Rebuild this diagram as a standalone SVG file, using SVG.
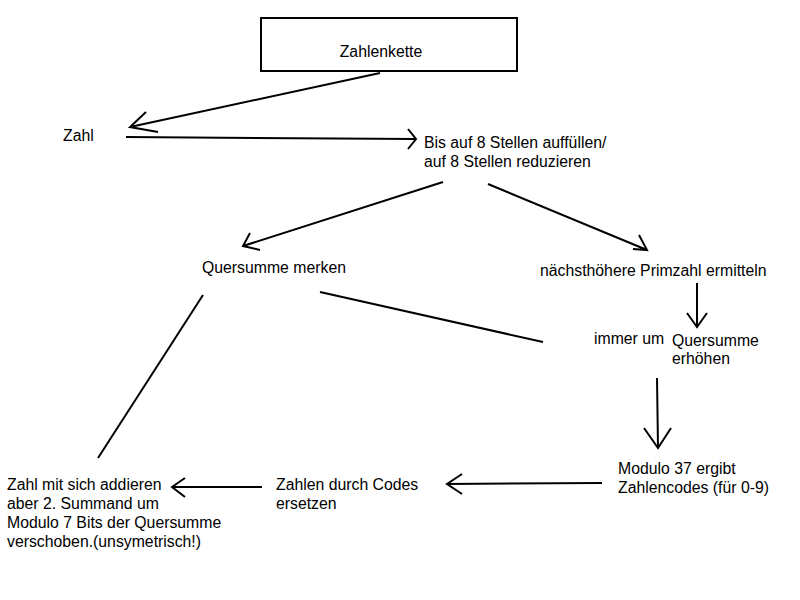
<svg xmlns="http://www.w3.org/2000/svg" width="800" height="600" viewBox="0 0 800 600">
<style>
text{font-family:"Liberation Sans",Arial,sans-serif;font-size:15.8px;fill:#000}
.ln{stroke:#000;stroke-width:2;fill:none}
</style>
<rect width="800" height="600" fill="#fff"/>
<g id="connectors">
<path class="ln" d="M380,73 L130,127 M146,112 L130,127 L158,132"/>
<path class="ln" d="M126,137 L416,139 M408,129 L416,139 L408,149"/>
<path class="ln" d="M443,182 L243,246 M250,233 L243,246 L260,250"/>
<path class="ln" d="M488,184 L647,250 M639,235 L647,250 L633,249"/>
<path class="ln" d="M697,283 L697,327 M687,313 L697,327 L707,313"/>
<path class="ln" d="M320,292 L543,342"/>
<path class="ln" d="M203,295 L98,458"/>
<path class="ln" d="M657,378 L658,448 M644,428 L658,448 L671,428"/>
<path class="ln" d="M602,483 L447,484 M462,474 L447,484 L462,494"/>
<path class="ln" d="M262,487 L172,487 M185,478 L172,487 L185,497"/>
</g>
<g id="n-zahlenkette">
<rect x="261" y="18" width="256" height="53" fill="#fff" stroke="#000" stroke-width="2"/>
<text x="381" y="57" text-anchor="middle">Zahlenkette</text>
</g>
<g id="n-zahl"><text x="63" y="141">Zahl</text></g>
<g id="n-bis"><text x="424" y="148">Bis auf 8 Stellen auffüllen/</text><text x="424" y="167">auf 8 Stellen reduzieren</text></g>
<g id="n-quersumme"><text x="202" y="273">Quersumme merken</text></g>
<g id="n-primzahl"><text x="540" y="276">nächsthöhere Primzahl ermitteln</text></g>
<g id="n-immer"><text x="594" y="344">immer um</text></g>
<g id="n-erhoehen"><text x="672" y="346">Quersumme</text><text x="672" y="364">erhöhen</text></g>
<g id="n-modulo"><text x="618" y="474">Modulo 37 ergibt</text><text x="618" y="493">Zahlencodes (für 0-9)</text></g>
<g id="n-codes"><text x="276" y="490">Zahlen durch Codes</text><text x="276" y="509">ersetzen</text></g>
<g id="n-addieren"><text x="7" y="490">Zahl mit sich addieren</text><text x="7" y="509">aber 2. Summand um</text><text x="7" y="528">Modulo 7 Bits der Quersumme</text><text x="7" y="547">verschoben.(unsymetrisch!)</text></g>
</svg>
